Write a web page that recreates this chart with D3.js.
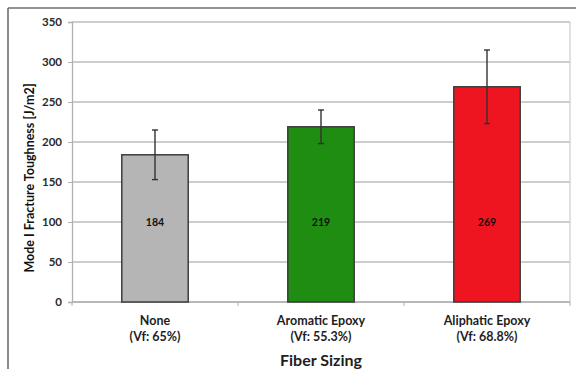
<!DOCTYPE html>
<html>
<head>
<meta charset="utf-8">
<script src="https://cdn.jsdelivr.net/npm/d3@7"></script>
<style>
  html, body { margin: 0; padding: 0; background: #fff; }
  svg { display: block; }
  text { font-family: Lato, "Open Sans", "DejaVu Sans", sans-serif; }
</style>
</head>
<body>
<svg id="chart" width="576" height="369"></svg>
<script>
// Fiber sizing vs. Mode I fracture toughness
const categories = ["None", "Aromatic Epoxy", "Aliphatic Epoxy"];
const volumeFractions = ["(Vf: 65%)", "(Vf: 55.3%)", "(Vf: 68.8%)"];
const toughness = [184, 219, 269];
const errorPlus = [31, 21, 46];
const errorMinus = [31, 21, 46];
const barColors = ["#b5b5b5", "#1f8c12", "#ee1521"];
const yTicks = [0, 50, 100, 150, 200, 250, 300, 350];
const labelLevel = 95; // value-label baseline level inside the bars

const svg = d3.select("#chart");
const margin = { left: 72, right: 6, top: 22, bottom: 67 };
const W = 576, H = 369;
const plotW = W - margin.left - margin.right;
const plotH = H - margin.top - margin.bottom;

// outer frame
svg.append("line").attr("x1", 8).attr("x2", W).attr("y1", 8).attr("y2", 8)
  .attr("stroke", "#6e6e6e").attr("stroke-width", 1.6);
svg.append("line").attr("x1", 8).attr("x2", 8).attr("y1", 8).attr("y2", H)
  .attr("stroke", "#6e6e6e").attr("stroke-width", 1.6);

const g = svg.append("g").attr("transform", `translate(${margin.left},${margin.top})`);

const x = d3.scaleBand().domain(categories).range([0, plotW])
  .paddingInner(0.6).paddingOuter(0.3);
const y = d3.scaleLinear().domain([0, 350]).range([plotH, 0]);

// horizontal gridlines
g.append("g").selectAll("line").data(yTicks).join("line")
  .attr("x1", 0).attr("x2", plotW)
  .attr("y1", d => y(d)).attr("y2", d => y(d))
  .attr("stroke", "#bdbdbd").attr("stroke-width", 1.3);

// plot right edge
g.append("line").attr("x1", plotW).attr("x2", plotW).attr("y1", 0).attr("y2", plotH)
  .attr("stroke", "#cfcfcf").attr("stroke-width", 1.3);

// y axis
const yAxis = g.append("g").call(d3.axisLeft(y).tickValues(yTicks).tickSize(4).tickPadding(6));
yAxis.select(".domain").attr("stroke", "#b0b0b0").attr("stroke-width", 1.3);
yAxis.selectAll(".tick line").attr("stroke", "#b0b0b0");
yAxis.selectAll(".tick text").attr("font-size", 11.5).attr("font-weight", 700).attr("fill", "#2a2a2a");

// x axis baseline with ticks on band boundaries
const xAxis = g.append("g").attr("transform", `translate(0,${plotH})`);
xAxis.append("line").attr("x1", 0).attr("x2", plotW).attr("stroke", "#b0b0b0").attr("stroke-width", 1.3);
const boundaries = d3.range(categories.length + 1).map(i => i === 0 ? 0 : (i === categories.length ? plotW : x(categories[i - 1]) + x.bandwidth() + x.step() * x.paddingInner() / 2));
xAxis.selectAll("line.tk").data(boundaries).join("line").attr("class", "tk")
  .attr("x1", d => d).attr("x2", d => d).attr("y1", 0).attr("y2", 4)
  .attr("stroke", "#b0b0b0");

// bars
g.append("g").selectAll("rect").data(categories).join("rect")
  .attr("x", d => x(d))
  .attr("y", (d, i) => y(toughness[i]))
  .attr("width", x.bandwidth())
  .attr("height", (d, i) => plotH - y(toughness[i]))
  .attr("fill", (d, i) => barColors[i])
  .attr("stroke", "#3c3c3c").attr("stroke-width", 1.5);

// error bars
const eb = g.append("g").attr("stroke", "#333").attr("stroke-width", 1.4);
categories.forEach((c, i) => {
  const cx = x(c) + x.bandwidth() / 2;
  const hi = y(toughness[i] + errorPlus[i]);
  const lo = y(toughness[i] - errorMinus[i]);
  eb.append("line").attr("x1", cx).attr("x2", cx).attr("y1", hi).attr("y2", lo);
  eb.append("line").attr("x1", cx - 3).attr("x2", cx + 3).attr("y1", hi).attr("y2", hi);
  eb.append("line").attr("x1", cx - 3).attr("x2", cx + 3).attr("y1", lo).attr("y2", lo);
});

// value labels
g.append("g").selectAll("text").data(categories).join("text")
  .attr("x", d => x(d) + x.bandwidth() / 2)
  .attr("y", y(labelLevel))
  .attr("text-anchor", "middle")
  .attr("font-size", 10.5).attr("font-weight", 700).attr("fill", "#111")
  .text((d, i) => toughness[i]);

// category labels
const cl = g.append("g");
categories.forEach((c, i) => {
  const cx = x(c) + x.bandwidth() / 2;
  cl.append("text").attr("x", cx).attr("y", plotH + 23)
    .attr("text-anchor", "middle").attr("font-size", 12.5).attr("font-weight", 700).attr("fill", "#1e1e1e")
    .text(c);
  cl.append("text").attr("x", cx).attr("y", plotH + 39)
    .attr("text-anchor", "middle").attr("font-size", 12.5).attr("font-weight", 700).attr("fill", "#1e1e1e")
    .text(volumeFractions[i]);
});

// axis titles
g.append("text").attr("x", plotW / 2).attr("y", plotH + 64)
  .attr("text-anchor", "middle").attr("font-size", 16).attr("font-weight", 700).attr("fill", "#1e1e1e")
  .text("Fiber Sizing");

svg.append("text")
  .attr("transform", `translate(34,${margin.top + 156}) rotate(-90)`)
  .attr("text-anchor", "middle").attr("font-size", 12.5).attr("font-weight", 700).attr("fill", "#111")
  .text("Mode I Fracture Toughness [J/m2]");
</script>
</body>
</html>
